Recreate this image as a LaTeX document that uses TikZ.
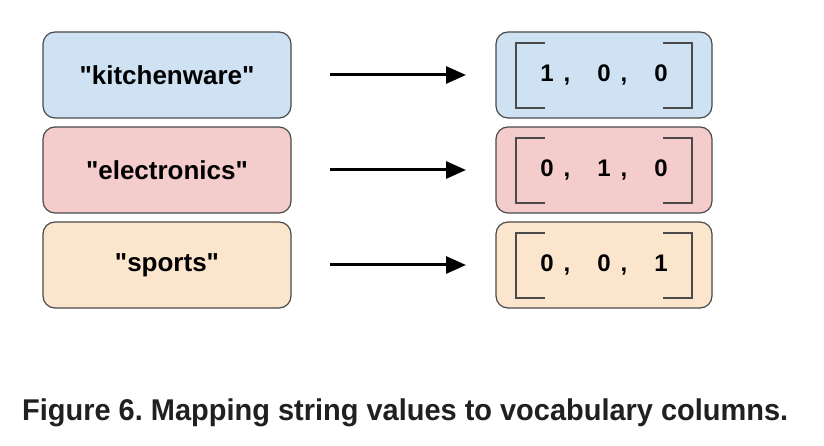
\documentclass[tikz,border=0pt]{standalone}
\usepackage{fontspec}
\setmainfont{Liberation Sans}[Ligatures=TeXOff]
\usepackage{graphicx}
\usetikzlibrary{arrows.meta}
\definecolor{cblue}{HTML}{CFE2F3}
\definecolor{cred}{HTML}{F4CCCC}
\definecolor{corange}{HTML}{FCE5CD}
\definecolor{edge}{HTML}{4A4A4A}
\definecolor{captxt}{HTML}{202020}
\newcommand{\vecrow}[3]{#1\hspace{10pt},\hspace{27pt}#2\hspace{10pt},\hspace{27pt}#3}
\begin{document}
\begin{tikzpicture}[x=1pt,y=-1pt,
  catbox/.style={draw=edge,line width=1.2pt,rounded corners=12pt,minimum width=248pt,minimum height=86pt,font=\bfseries\fontsize{26}{28}\selectfont,inner sep=0pt},
  vecbox/.style={draw=edge,line width=1.2pt,rounded corners=12pt,minimum width=216pt,minimum height=86pt,font=\bfseries\fontsize{24}{26}\selectfont,inner sep=0pt},
  brk/.style={draw=edge,line width=1.3pt},
  conn/.style={line width=3pt,-{Triangle[length=20pt,width=17pt]}}]
\useasboundingbox (0,0) rectangle (824,446);
\fill[white] (0,0) rectangle (824,446);
\node[catbox,fill=cblue] (k) at (167,75) {"kitchenware"};
\node[catbox,fill=cred] (e) at (167,170) {"electronics"};
\node[catbox,fill=corange] (s) at (167,265) {"sports"};
\node[vecbox,fill=cblue] (v1) at (604,75) {\vecrow{1}{0}{0}};
\node[vecbox,fill=cred] (v2) at (604,170) {\vecrow{0}{1}{0}};
\node[vecbox,fill=corange] (v3) at (604,265) {\vecrow{0}{0}{1}};
\foreach \v in {v1,v2,v3}{
  \draw[brk] ([shift={(-59pt,-33pt)}]\v.center) -- ([shift={(-88pt,-33pt)}]\v.center) -- ([shift={(-88pt,32pt)}]\v.center) -- ([shift={(-59pt,32pt)}]\v.center);
  \draw[brk] ([shift={(59pt,-33pt)}]\v.center) -- ([shift={(88pt,-33pt)}]\v.center) -- ([shift={(88pt,32pt)}]\v.center) -- ([shift={(59pt,32pt)}]\v.center);
}
\coordinate (a1) at (330,75); \coordinate (b1) at (466,75);
\coordinate (a2) at (330,170); \coordinate (b2) at (466,170);
\coordinate (a3) at (330,265); \coordinate (b3) at (466,265);
\draw[conn] (a1) -- (b1);
\draw[conn] (a2) -- (b2);
\draw[conn] (a3) -- (b3);
\node[anchor=base west,inner sep=0pt,text=captxt,font=\bfseries\fontsize{30}{32}\selectfont] (cap) at (22,420) {\resizebox{766pt}{\height}{Figure 6.\ Mapping string values to vocabulary columns.}};
\end{tikzpicture}
\end{document}
